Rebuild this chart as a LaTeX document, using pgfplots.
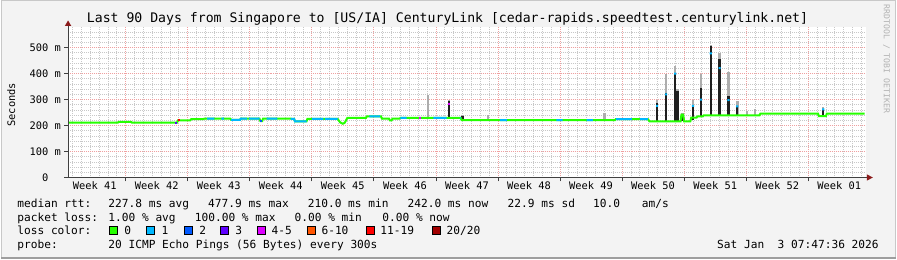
\documentclass[border=0pt]{standalone}
\usepackage{fontspec}
\setmainfont{DejaVu Sans Mono}
\usepackage{pgfplots}
\pgfplotsset{compat=1.18}
\definecolor{bg}{HTML}{F3F3F3}
\definecolor{lz}{HTML}{26FF00}
\definecolor{lone}{HTML}{00B8FF}
\definecolor{ltwo}{HTML}{0059FF}
\definecolor{lthree}{HTML}{5E00FF}
\definecolor{lfour}{HTML}{DD00FF}
\definecolor{lsix}{HTML}{FF5500}
\definecolor{leleven}{HTML}{FF0000}
\definecolor{ltwenty}{HTML}{A10000}
\definecolor{arrowred}{HTML}{8B1A1A}
\definecolor{majgrid}{HTML}{F0A0A0}
\definecolor{mingrid}{HTML}{C8C8C8}
\newcommand\lf{\fontsize{11.2}{13}\selectfont}
\newcommand\af{\fontsize{10.4}{12}\selectfont}
\begin{document}
\begin{tikzpicture}[x=1pt,y=1pt]
\fill[bg] (0,0) rectangle (897,260);
\draw[mingrid, line width=1.2pt] (0.6,0) -- (0.6,259.4) -- (896.4,259.4) -- (896.4,0);
\draw[black!38, line width=2.5pt] (0,1.25) -- (897,1.25);
\begin{axis}[
  at={(67pt,82pt)}, anchor=south west, scale only axis,
  width=800pt, height=151pt,
  xmin=0, xmax=90, ymin=0, ymax=579.4,
  axis background/.style={fill=white},
  axis line style={draw=none},
  xtick={6.5,13.5,...,83.5}, xticklabels={},
  extra x ticks={3,10,17,24,31,38,45,52,59,66,73,80,87},
  extra x tick labels={Week 41,Week 42,Week 43,Week 44,Week 45,Week 46,Week 47,Week 48,Week 49,Week 50,Week 51,Week 52,Week 01},
  extra x tick style={grid=none, major tick length=0pt},
  minor xtick={0.5,1.5,...,89.5},
  ytick={0,100,...,500},
  yticklabels={0\hphantom{~m},100 m,200 m,300 m,400 m,500 m},
  minor ytick={20,40,...,560},
  grid=both,
  major grid style={draw=majgrid, line width=0.8pt, dash pattern=on 1pt off 1pt},
  minor grid style={draw=mingrid, line width=0.8pt, dash pattern=on 1pt off 1pt},
  tick align=outside, major tick length=4pt, minor tick length=0pt,
  tick style={black!75, line width=0.8pt},
  xtick pos=left, ytick pos=left,
  ticklabel style={font=\af, inner sep=0pt},
  xticklabel style={yshift=-4pt},
  yticklabel style={xshift=-3pt},
  unbounded coords=jump,
  clip=true,
]
% light smoke
\addplot[draw=black!32, line width=2.4pt, forget plot] table {
x y
40.6 229
40.6 318
nan nan
43.0 229
43.0 300
nan nan
44.5 221
44.5 240
nan nan
47.4 221
47.4 240
nan nan
60.5 221
60.5 249
nan nan
66.45 216
66.45 300
nan nan
67.47 216
67.47 400
nan nan
68.5 216
68.5 430
nan nan
68.75 216
68.75 340
nan nan
69.3 216
69.3 250
nan nan
70.5 222
70.5 300
nan nan
71.4 232
71.4 400
nan nan
72.5 239
72.5 510
nan nan
73.5 239
73.5 480
nan nan
74.5 239
74.5 405
nan nan
75.5 239
75.5 293
nan nan
76.6 239
76.6 254
nan nan
77.5 239
77.5 265
nan nan
85.2 236
85.2 272
};
% dense smoke
\addplot[draw=black!88, line width=2.2pt, forget plot] table {
x y
43.0 229
43.0 293
nan nan
44.5 221
44.5 236
nan nan
66.45 216
66.45 287
nan nan
67.47 216
67.47 327
nan nan
68.5 216
68.5 402
nan nan
68.75 216
68.75 331
nan nan
69.3 216
69.3 242
nan nan
70.5 222
70.5 276
nan nan
71.4 232
71.4 344
nan nan
72.5 239
72.5 505
nan nan
73.5 239
73.5 455
nan nan
74.5 239
74.5 312
nan nan
75.5 239
75.5 274
nan nan
85.2 236
85.2 262
};
% median, loss 0
\addplot[draw=lz, line width=2pt, forget plot] table {
x y
0 211
5.6 211
5.7 214
7.1 214
7.2 211
12.3 211
12.4 220
13.8 220
13.9 225
15.3 225
15.4 227
18.3 227
18.4 222
19.4 222
19.5 227
21.6 227
21.7 217
21.9 217
22.0 227
25.5 226
25.6 216
26.9 216
27.0 226
30.4 226
30.7 212
31.0 207
31.2 210
31.5 229
33.6 229
33.7 235
35.3 235
35.4 227
36.2 227
36.3 220
36.5 220
36.6 227
37.4 227
37.5 229
44.3 229
44.4 221
61.7 221
61.8 225
65.4 225
65.6 216
69.1 216
69.2 242
69.4 242
69.5 216
70.2 216
70.3 230
70.9 230
71.0 235
71.6 235
71.7 239
78.0 239
78.1 246
84.6 246
84.7 236
85.5 236
85.6 246
89.85 246
};
% median, loss 1
\addplot[draw=lone, line width=2pt, forget plot] table {
x y
15.7 227
16.5 227
nan nan
17.3 227
17.6 227
nan nan
18.4 222
19.4 222
19.5 227
20.2 227
nan nan
20.4 227
21.6 227
nan nan
22.4 227
23.6 227
nan nan
25.1 226
25.5 226
25.6 216
26.9 216
nan nan
27.5 226
28.8 226
nan nan
29.0 226
30.4 226
nan nan
34.0 235
35.2 235
nan nan
37.5 229
38.2 229
nan nan
41.2 229
42.7 229
nan nan
44.2 229
44.3 229
nan nan
48.7 221
49.5 221
nan nan
55.1 221
55.8 221
nan nan
58.5 221
59.2 221
nan nan
61.8 225
63.6 225
nan nan
64.5 225
65.4 225
nan nan
66.33 276
66.57 276
nan nan
67.35 320
67.59 320
nan nan
68.38 400
68.62 400
nan nan
70.38 276
70.62 276
nan nan
71.28 300
71.52 300
nan nan
72.38 478
72.62 478
nan nan
73.38 421
73.62 421
nan nan
74.38 298
74.62 298
nan nan
75.38 274
75.62 274
nan nan
85.08 262
85.32 262
};
% median, loss 2
\addplot[draw=ltwo, line width=2pt, forget plot] table {
x y
21.6 217
21.9 217
};
% median, loss 3
\addplot[draw=lthree, line width=2pt, forget plot] table {
x y
12.05 211
12.3 211
};
% median, loss 4-5
\addplot[draw=lfour, line width=2pt, forget plot] table {
x y
39.6 229
39.85 229
nan nan
42.9 284
43.1 284
};
% median, loss 11-19
\addplot[draw=leleven, line width=2pt, forget plot] table {
x y
12.4 220
12.6 220
};
\end{axis}
% axes with arrows
\draw[black!75, line width=0.9pt] (67,82) -- (67,235);
\fill[arrowred] (63.8,234) -- (70.2,234) -- (67,239.5) -- cycle;
\draw[black!75, line width=0.9pt] (63,82) -- (869,82);
\fill[arrowred] (868,78.8) -- (868,85.2) -- (874,82) -- cycle;
% title and labels
\node[font=\fontsize{13.2}{15}\selectfont, inner sep=0pt] at (447.5,240.7) {Last 90 Days from Singapore to [US/IA] CenturyLink [cedar-rapids.speedtest.centurylink.net]};
\node[font=\af, rotate=90, inner sep=0pt] at (10,155) {Seconds};
\node[font=\fontsize{8.2}{9}\selectfont, rotate=-90, text=black!30, inner sep=0pt] at (887.7,201) {RRDTOOL / TOBI OETIKER};
% legend
\begin{scope}[every node/.style={font=\lf, inner sep=0pt, anchor=base west}]
\node at (16,51.7) {median rtt:};
\node at (107.3,51.7) {227.8 ms avg};
\node at (207.3,51.7) {477.9 ms max};
\node at (307.3,51.7) {210.0 ms min};
\node at (407.3,51.7) {242.0 ms now};
\node at (507.7,51.7) {22.9 ms sd};
\node at (593.3,51.7) {10.0};
\node at (642.3,51.7) {am/s};
\node at (16,38) {packet loss:};
\node at (107.3,38) {1.00 \% avg};
\node at (194,38) {100.00 \% max};
\node at (294,38) {0.00 \% min};
\node at (382,38) {0.00 \% now};
\node at (16,24.5) {loss color:};
\node at (123.3,24.5) {0};
\node at (160.5,24.5) {1};
\node at (198.5,24.5) {2};
\node at (234.5,24.5) {3};
\node at (271,24.5) {4-5};
\node at (321,24.5) {6-10};
\node at (380,24.5) {11-19};
\node at (446.5,24.5) {20/20};
\node at (16,11) {probe:};
\node at (107.3,11) {20 ICMP Echo Pings (56 Bytes) every 300s};
\node[anchor=base east] at (880,11) {Sat Jan\ \ 3 07:47:36 2026};
\end{scope}
\begin{scope}[line width=0.8pt]
\filldraw[fill=lz, draw=black] (108.5,24.5) rectangle ++(8,8);
\filldraw[fill=lone, draw=black] (145.7,24.5) rectangle ++(8,8);
\filldraw[fill=ltwo, draw=black] (184,24.5) rectangle ++(8,8);
\filldraw[fill=lthree, draw=black] (220,24.5) rectangle ++(8,8);
\filldraw[fill=lfour, draw=black] (256.7,24.5) rectangle ++(8,8);
\filldraw[fill=lsix, draw=black] (306.7,24.5) rectangle ++(8,8);
\filldraw[fill=leleven, draw=black] (365.7,24.5) rectangle ++(8,8);
\filldraw[fill=ltwenty, draw=black] (432.3,24.5) rectangle ++(8,8);
\end{scope}
\end{tikzpicture}
\end{document}
